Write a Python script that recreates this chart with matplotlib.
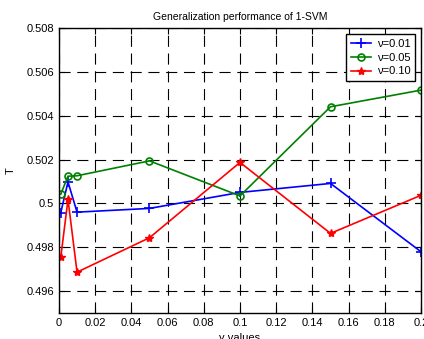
import matplotlib
matplotlib.use("Agg")
import matplotlib.pyplot as plt

plt.rcParams['font.family'] = ['Liberation Sans', 'DejaVu Sans']

gamma = [0.001, 0.005, 0.01, 0.05, 0.1, 0.15, 0.2]
t_nu001 = [0.49957, 0.50098, 0.49960, 0.49977, 0.50050, 0.50091, 0.49779]
t_nu005 = [0.50042, 0.50124, 0.50126, 0.50194, 0.50034, 0.50441, 0.50517]
t_nu010 = [0.49753, 0.50018, 0.49686, 0.49843, 0.50187, 0.49863, 0.50037]
labels = ['ν=0.01', 'ν=0.05', 'ν=0.10']
xticks = [0, 0.02, 0.04, 0.06, 0.08, 0.1, 0.12, 0.14, 0.16, 0.18, 0.2]
xticklabels = ['0', '0.02', '0.04', '0.06', '0.08', '0.1', '0.12', '0.14', '0.16', '0.18', '0.2']
yticks = [0.496, 0.498, 0.5, 0.502, 0.504, 0.506, 0.508]
yticklabels = ['0.496', '0.498', '0.5', '0.502', '0.504', '0.506', '0.508']

fig = plt.figure(figsize=(4.24, 3.39), dpi=100)
ax = fig.add_axes([0.139, 0.077, 0.854, 0.840])

ax.plot(gamma, t_nu001, color='#0000ff', marker='+', markersize=7, mew=1.2, lw=1.2, label=labels[0])
ax.plot(gamma, t_nu005, color='#008000', marker='o', markersize=5, mfc='none', mew=1.2, lw=1.2, label=labels[1])
ax.plot(gamma, t_nu010, color='#ff0000', marker='*', markersize=6, mew=1.0, lw=1.2, label=labels[2])

ax.set_xlim(0, 0.2)
ax.set_ylim(0.495, 0.508)
ax.set_xticks(xticks)
ax.set_xticklabels(xticklabels)
ax.set_yticks(yticks)
ax.set_yticklabels(yticklabels)
ax.tick_params(direction='in', top=True, right=True, labelsize=8, length=4, color='black')
ax.grid(True, color='black', linestyle=(0, (10, 6)), linewidth=0.8)
for s in ax.spines.values():
    s.set_linewidth(1.0)

ax.set_title('Generalization performance of 1-SVM', fontsize=7.5, pad=6)
ax.set_ylabel('T', fontsize=8, labelpad=8)
ax.set_xlabel('γ values', fontsize=8, labelpad=4)

leg = ax.legend(loc='upper right', fontsize=8, frameon=True, fancybox=False,
                edgecolor='black', framealpha=1, borderaxespad=0.5,
                handlelength=1.8, handletextpad=0.5, labelspacing=0.35, borderpad=0.45)
leg.get_frame().set_linewidth(1.0)

fig.savefig('out.png', dpi=100)
